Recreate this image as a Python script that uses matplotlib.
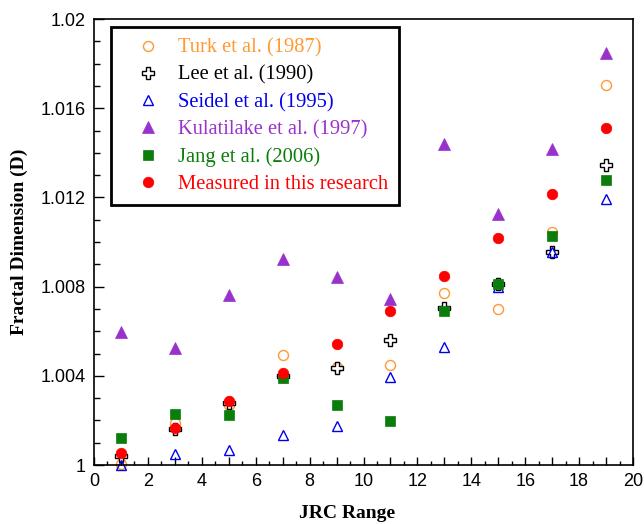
import matplotlib
matplotlib.use("Agg")
import matplotlib.pyplot as plt
from matplotlib.ticker import MultipleLocator, FuncFormatter
from matplotlib.lines import Line2D

# JRC range (x) and fractal dimension D for each study
jrc = [1, 3, 5, 7, 9, 11, 13, 15, 17, 19]
turk_1987 = [1.00003, 1.0019, 1.00268, 1.00494, 1.0044, 1.0045, 1.00772, 1.0070, 1.01044, 1.01706]
lee_1990 = [1.0004, 1.00162, 1.00276, 1.0040, 1.00437, 1.0056, 1.00705, 1.0081, 1.00957, 1.01344]
seidel_1995 = [1.0000, 1.00048, 1.00066, 1.00133, 1.00175, 1.00396, 1.00527, 1.0080, 1.00957, 1.01194]
kulatilake_1997 = [1.00595, 1.00523, 1.00764, 1.00924, 1.00842, 1.00745, 1.01438, 1.01127, 1.01419, 1.01849]
jang_2006 = [1.0012, 1.00228, 1.00223, 1.00392, 1.00268, 1.00198, 1.00692, 1.00812, 1.01025, 1.01276]
measured = [1.00055, 1.00168, 1.00288, 1.00412, 1.00542, 1.00689, 1.00846, 1.01019, 1.01217, 1.01511]

labels = ["Turk et al. (1987)", "Lee et al. (1990)", "Seidel et al. (1995)",
          "Kulatilake et al. (1997)", "Jang et al. (2006)", "Measured in this research"]

ORANGE = "#FF9933"
BLACK = "#000000"
BLUE = "#0000EE"
PURPLE = "#9932CC"
GREEN = "#0A7D0A"
RED = "#FF0000"

series = [
    (turk_1987, dict(marker="o", mfc="none", mec=ORANGE, ms=7.2, mew=1.0), ORANGE),
    (lee_1990, dict(marker="P", mfc="white", mec=BLACK, ms=8.0, mew=1.0), BLACK),
    (seidel_1995, dict(marker="^", mfc="none", mec=BLUE, ms=7.8, mew=1.0), BLUE),
    (kulatilake_1997, dict(marker="^", mfc=PURPLE, mec=PURPLE, ms=8.0, mew=0.5), PURPLE),
    (jang_2006, dict(marker="s", mfc=GREEN, mec=GREEN, ms=7.2, mew=0.5), GREEN),
    (measured, dict(marker="o", mfc=RED, mec=RED, ms=7.6, mew=0.5), RED),
]

fig = plt.figure(figsize=(6.44, 5.24), dpi=100)
ax = fig.add_axes([94 / 644, 1 - 465 / 524, 539 / 644, 446 / 524])

handles = []
for vals, style, col in series:
    ax.plot(jrc, vals, linestyle="none", clip_on=False, **style)
    handles.append(Line2D([], [], linestyle="none", **style))

ax.set_xlim(0, 20)
ax.set_ylim(1.0, 1.02)

tick_font = "Liberation Sans"
serif_font = "Liberation Serif"

ax.xaxis.set_major_locator(MultipleLocator(1))
ax.xaxis.set_minor_locator(MultipleLocator(0.5))
ax.xaxis.set_major_formatter(FuncFormatter(lambda v, p: f"{int(round(v))}" if int(round(v)) % 2 == 0 else ""))
ax.yaxis.set_major_locator(MultipleLocator(0.004))
ax.yaxis.set_minor_locator(MultipleLocator(0.001))
ax.yaxis.set_major_formatter(FuncFormatter(lambda v, p: "1" if abs(v - 1) < 1e-9 else f"{v:.3f}".rstrip("0")))

ax.tick_params(axis="both", which="both", direction="in", top=False, right=False, width=1.0)
ax.tick_params(axis="x", which="major", length=5.5, pad=6)
ax.tick_params(axis="x", which="minor", length=3)
ax.tick_params(axis="y", which="major", length=7, pad=6)
ax.tick_params(axis="y", which="minor", length=4.5)
for lab in ax.get_xticklabels() + ax.get_yticklabels():
    lab.set_fontfamily(tick_font)
    lab.set_fontsize(13)

for sp in ax.spines.values():
    sp.set_linewidth(1.2)

ax.set_xlabel("JRC Range", fontfamily=serif_font, fontweight="bold", fontsize=14)
ax.xaxis.set_label_coords(0.469, -0.09)
ax.set_ylabel("Fractal Dimension (D)", fontfamily=serif_font, fontweight="bold", fontsize=14)
ax.yaxis.set_label_coords(-0.122, 0.5)

leg = ax.legend(handles, labels, loc="upper left",
                bbox_to_anchor=((111 - 94) / 539, (465 - 27) / 446),
                borderaxespad=0, frameon=True, fancybox=False, shadow=False,
                borderpad=0.55, handlelength=2.49, handletextpad=0.21,
                labelspacing=0.38, prop={"family": serif_font, "size": 14.8})
frame = leg.get_frame()
frame.set_edgecolor("black")
frame.set_linewidth(2.0)
frame.set_facecolor("white")
frame.set_alpha(1)
for txt, (_, _, col) in zip(leg.get_texts(), series):
    txt.set_color(col)

fig.savefig("out.png", dpi=100)
